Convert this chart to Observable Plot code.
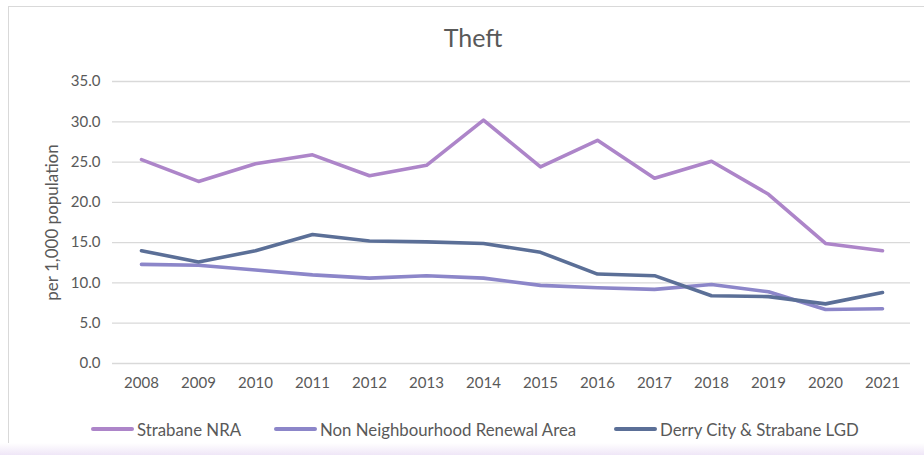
<!DOCTYPE html>
<html>
<head>
<meta charset="utf-8">
<script src="https://cdn.jsdelivr.net/npm/d3@7"></script>
<script src="https://cdn.jsdelivr.net/npm/@observablehq/plot@0.6"></script>
<style>
  html, body { margin: 0; padding: 0; background: #fff; }
  body { width: 924px; height: 455px; overflow: hidden; position: relative; font-family: Lato, "Open Sans", sans-serif; }
  #frame { position: absolute; left: 8px; top: 6px; width: 930px; height: 460px; border: 1px solid #d9d9d9; box-sizing: border-box; }
  #glow { position: absolute; left: 0; top: 443px; width: 924px; height: 12px; background: linear-gradient(#ffffff, #efe6f7); }
  #title { position: absolute; left: 373px; top: 22px; width: 200px; text-align: center; font-size: 25px; color: #595959; }
  #chart { position: absolute; left: 0; top: 60px; }
  #chart g[aria-label="y-axis label"] text { font-size: 17px; }
  #legend { position: absolute; left: 0; top: 418px; width: 924px; height: 22px; font-size: 16.8px; color: #595959; }
  .item { position: absolute; top: 0; display: flex; align-items: center; height: 22px; white-space: nowrap; }
  .sw { width: 43px; height: 4px; border-radius: 2px; margin-right: 3px; }
</style>
</head>
<body>
<div id="frame"></div>
<div id="glow"></div>
<div id="title">Theft</div>
<div id="chart"></div>
<div id="legend"></div>
<script>
const years = [2008, 2009, 2010, 2011, 2012, 2013, 2014, 2015, 2016, 2017, 2018, 2019, 2020, 2021];
const strabaneNRA = [25.3, 22.6, 24.8, 25.9, 23.3, 24.6, 30.2, 24.4, 27.7, 23.0, 25.1, 21.0, 14.9, 14.0];
const nonNRA = [12.3, 12.2, 11.6, 11.0, 10.6, 10.9, 10.6, 9.7, 9.4, 9.2, 9.8, 8.9, 6.7, 6.8];
const derryLGD = [14.0, 12.6, 14.0, 16.0, 15.2, 15.1, 14.9, 13.8, 11.1, 10.9, 8.4, 8.3, 7.4, 8.8];
const seriesNames = ["Strabane NRA", "Non Neighbourhood Renewal Area", "Derry City & Strabane LGD"];
const seriesColors = ["#ad85c9", "#8c86c9", "#5b6f97"];
const yTicks = [0, 5, 10, 15, 20, 25, 30, 35];

const seriesValues = [strabaneNRA, nonNRA, derryLGD];
const data = seriesNames.flatMap((name, i) =>
  years.map((y, j) => ({ series: name, year: String(y), value: seriesValues[i][j] }))
);

const chart = Plot.plot({
  width: 924,
  height: 340,
  marginTop: 21,
  marginBottom: 37,
  marginLeft: 112,
  marginRight: 14,
  style: { fontFamily: "Lato, 'Open Sans', sans-serif", fontSize: "15px", color: "#595959", background: "transparent" },
  x: { type: "point", domain: years.map(String), padding: 0.5, label: null },
  y: { domain: [0, 35], label: null },
  color: { domain: seriesNames, range: seriesColors },
  marks: [
    Plot.ruleY(yTicks, { stroke: "#d9d9d9", strokeWidth: 1.3 }),
    Plot.axisY({ ticks: yTicks, tickFormat: d => d.toFixed(1), tickSize: 0, tickPadding: 12, fontSize: 15, fill: "#595959",
      label: "per 1,000 population", labelAnchor: "center", labelArrow: "none", labelOffset: 67 }),
    Plot.axisX({ tickSize: 0, tickPadding: 14, fontSize: 15, fill: "#595959" }),
    Plot.lineY(data, { x: "year", y: "value", z: "series", stroke: "series", strokeWidth: 3.6, strokeLinejoin: "round", strokeLinecap: "round" })
  ]
});
document.getElementById("chart").appendChild(chart);

const legendX = [91, 274, 614];
const legend = document.getElementById("legend");
seriesNames.forEach((name, i) => {
  const item = document.createElement("div");
  item.className = "item";
  item.style.left = legendX[i] + "px";
  const sw = document.createElement("div");
  sw.className = "sw";
  sw.style.background = seriesColors[i];
  const t = document.createElement("span");
  t.textContent = name;
  item.appendChild(sw);
  item.appendChild(t);
  legend.appendChild(item);
});
</script>
</body>
</html>
